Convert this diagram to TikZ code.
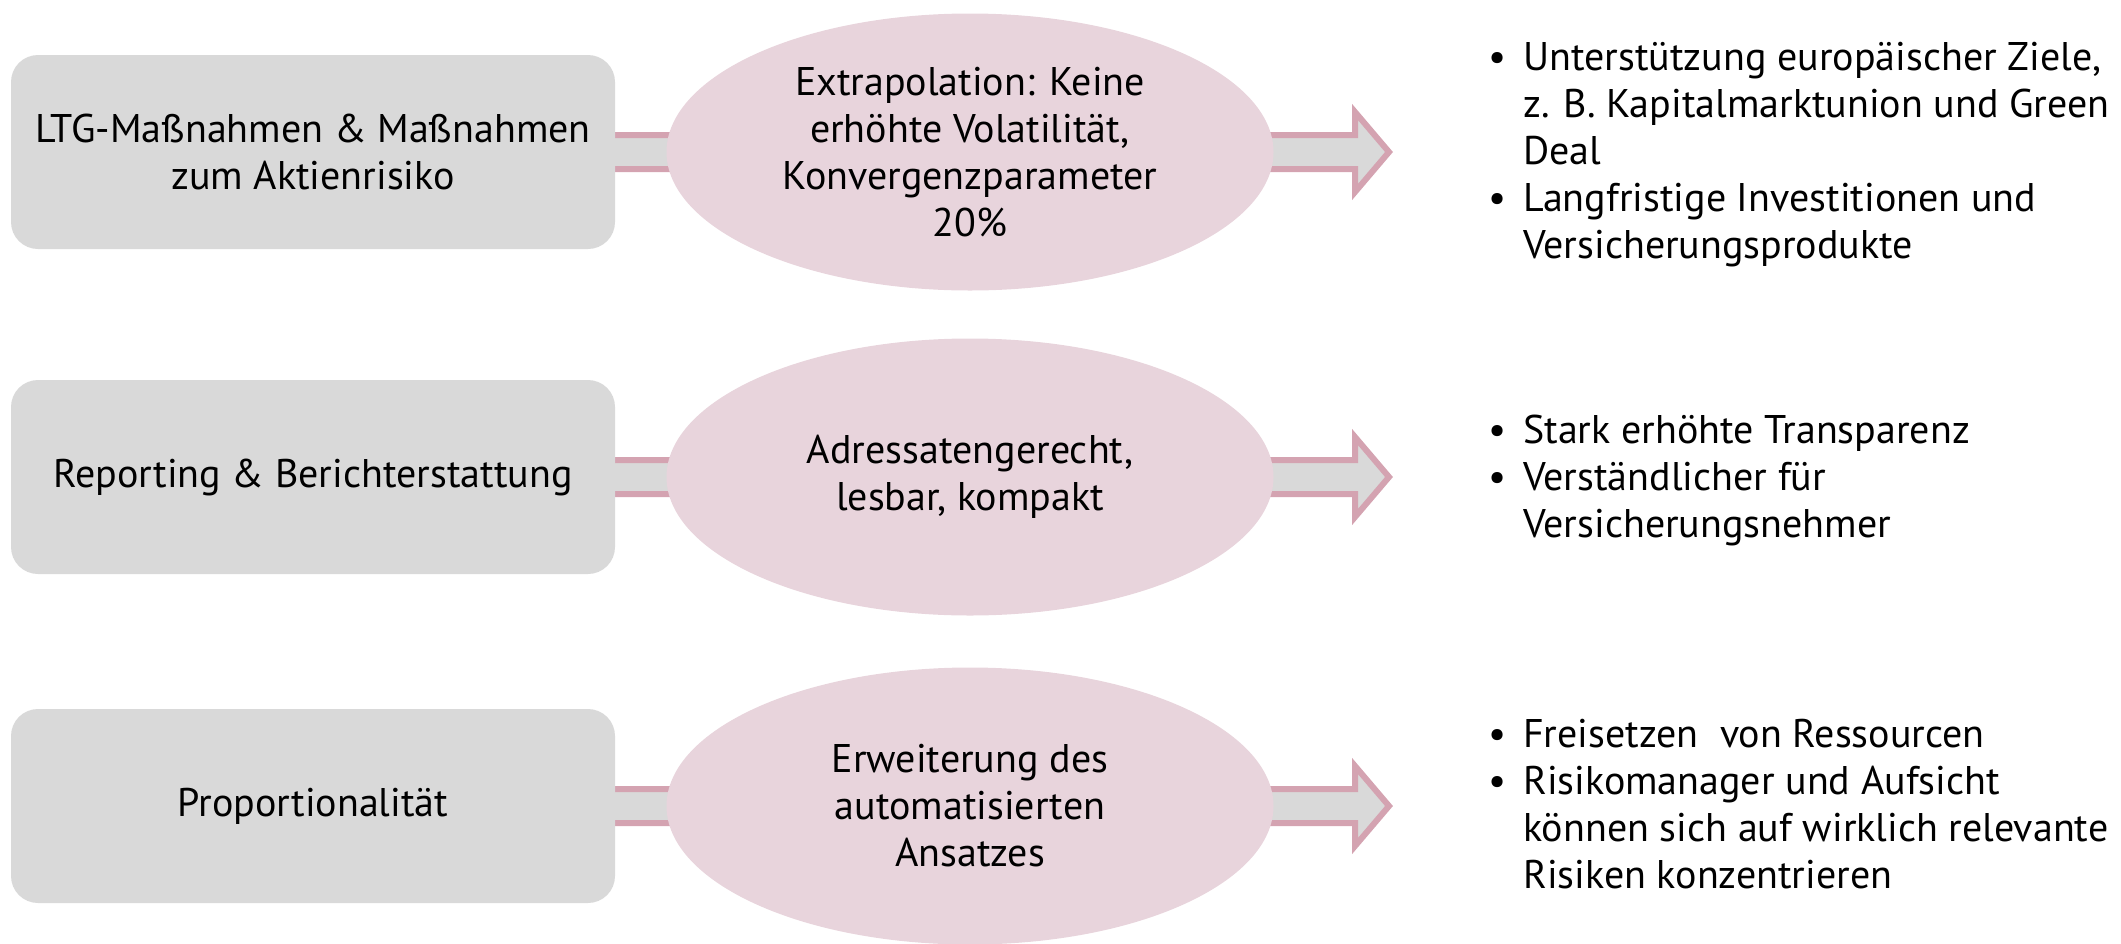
\documentclass[tikz,border=0pt]{standalone}
\usepackage{fontspec}
\setmainfont{PT Sans}
\usetikzlibrary{shapes.geometric,calc}
\definecolor{boxgray}{HTML}{D9D9D9}
\definecolor{ellpink}{HTML}{E8D4DC}
\definecolor{arrowrim}{HTML}{D4A3B1}
\newcommand{\txtfont}{\fontsize{40}{47}\selectfont}
\newcommand{\blockarr}[2]{%
  \draw[blockarrow] ($(#1)+(0,-17)$) -- ($(#2)+(-34,-17)$) -- ($(#2)+(-34,-40)$)
    -- (#2) -- ($(#2)+(-34,40)$) -- ($(#2)+(-34,17)$) -- ($(#1)+(0,17)$) -- cycle;}
\begin{document}
\begin{tikzpicture}[x=1pt,y=-1pt,
  leftbox/.style={fill=boxgray, rounded corners=27pt, minimum width=604pt,
    minimum height=194pt, align=center, inner sep=0pt, font=\txtfont},
  midell/.style={ellipse, fill=ellpink, minimum width=607pt, minimum height=277pt,
    inner sep=0pt, align=center, font=\txtfont},
  blockarrow/.style={draw=arrowrim, fill=boxgray, line width=6pt, miter limit=10},
  bullets/.style={anchor=base west, inner sep=0pt, font=\txtfont}]
\useasboundingbox (0,0) rectangle (2121,943);
% anchors of arrow start and tips
\coordinate (s1) at (313,152);
\coordinate (s2) at (313,477);
\coordinate (s3) at (313,806);
\coordinate (t1) at (1389,152);
\coordinate (t2) at (1389,477);
\coordinate (t3) at (1389,806);
\blockarr{s1}{t1}
\blockarr{s2}{t2}
\blockarr{s3}{t3}
% left boxes
\node[leftbox] (b1) at (s1) {LTG-Maßnahmen \& Maßnahmen\\zum Aktienrisiko};
\node[leftbox] (b2) at (s2) {Reporting \& Berichterstattung};
\node[leftbox] (b3) at (s3) {Proportionalität};
% ellipses
\node[midell] (e1) at (970,152) {Extrapolation: Keine\\erhöhte Volatilität,\\Konvergenzparameter\\20\%};
\node[midell] (e2) at (970,477) {Adressatengerecht,\\lesbar, kompakt};
\node[midell] (e3) at (970,806) {Erweiterung des\\automatisierten\\Ansatzes};
% bullet lists
\node[bullets] (l1) at (1488,70) {\begin{tabular}[t]{@{}p{35pt}@{}l@{}}
\textbullet & Unterstützung europäischer Ziele,\\
 & z. B. Kapitalmarktunion und Green\\
 & Deal\\
\textbullet & Langfristige Investitionen und\\
 & Versicherungsprodukte
\end{tabular}};
\node[bullets] (l2) at (1488,443) {\begin{tabular}[t]{@{}p{35pt}@{}l@{}}
\textbullet & Stark erhöhte Transparenz\\
\textbullet & Verständlicher für\\
 & Versicherungsnehmer
\end{tabular}};
\node[bullets] (l3) at (1488,747) {\begin{tabular}[t]{@{}p{35pt}@{}l@{}}
\textbullet & Freisetzen\ \ von Ressourcen\\
\textbullet & Risikomanager und Aufsicht\\
 & können sich auf wirklich relevante\\
 & Risiken konzentrieren
\end{tabular}};
\end{tikzpicture}
\end{document}
